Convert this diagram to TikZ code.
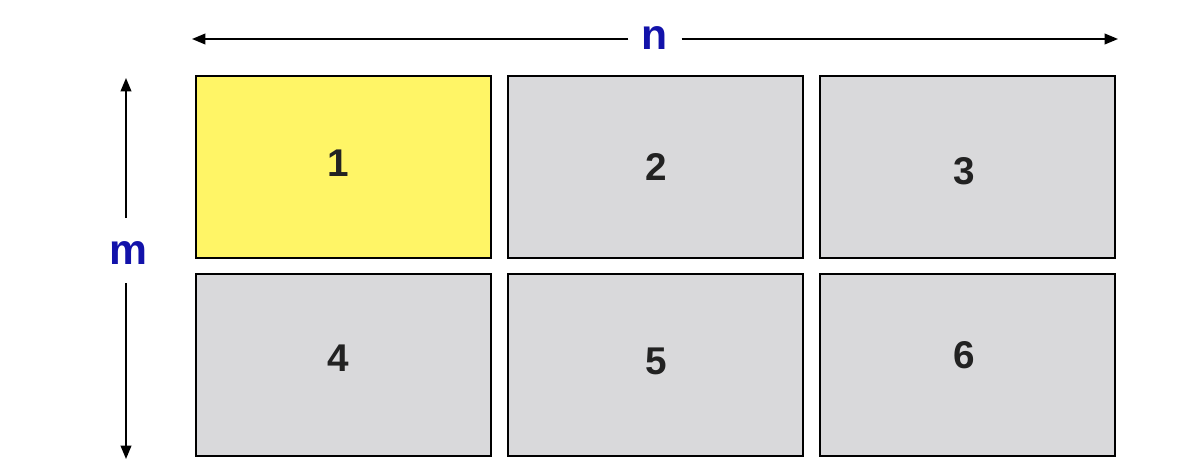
\documentclass[tikz,border=0pt]{standalone}
\usepackage{fontspec}
\setmainfont{Liberation Sans}
\usetikzlibrary{arrows.meta}
\definecolor{cellgray}{RGB}{217,217,219}
\definecolor{cellyellow}{RGB}{255,245,102}
\definecolor{dimblue}{RGB}{18,18,170}
\definecolor{digitgray}{RGB}{34,34,34}
\tikzset{
  cell/.style={draw=black, line width=1.5pt, fill=cellgray, minimum width=221pt, minimum height=136.5pt, inner sep=0pt},
  digit/.style={inner sep=0pt, text=digitgray, font=\fontsize{29}{29}\selectfont\bfseries},
  dimlabel/.style={inner sep=0pt, text=dimblue, font=\fontsize{32}{32}\selectfont\bfseries},
  dimline/.style={line width=1.2pt, -{Triangle[length=10pt,width=8pt]}}
}
\begin{document}
\begin{tikzpicture}[x=0.75pt,y=0.75pt,yscale=-1,xscale=1]
\useasboundingbox (0,0) rectangle (1203,471);

%Shape: Rectangle [cells]
\node [cell, fill=cellyellow] (c1) at (343.5,167) {};
\node [cell] (c2) at (655.5,167) {};
\node [cell] (c3) at (967.5,167) {};
\node [cell] (c4) at (343.5,364.5) {};
\node [cell] (c5) at (655.5,364.5) {};
\node [cell] (c6) at (967.5,364.5) {};

% Text Node
\node [digit] (t1) at (338,163) {1};
\node [digit] (t2) at (656,167) {2};
\node [digit] (t3) at (964,171) {3};
\node [digit] (t4) at (338,358) {4};
\node [digit] (t5) at (656,361) {5};
\node [digit] (t6) at (964,355) {6};

% Text Node
\node [dimlabel] (n) at (655,38) {n};
\node [dimlabel] (m) at (128,253) {m};

%Straight Lines [dimension ends]
\coordinate (nleft) at (192,39);
\coordinate (nright) at (1118,39);
\coordinate (mtop) at (126,78);
\coordinate (mbottom) at (126,459);

\draw [dimline] ([xshift=-20pt]n.center |- nleft) -- (nleft);
\draw [dimline] ([xshift=20pt]n.center |- nright) -- (nright);
\draw [dimline] (mtop |- 0,218) -- (mtop);
\draw [dimline] (mbottom |- 0,283) -- (mbottom);

\end{tikzpicture}
\end{document}
